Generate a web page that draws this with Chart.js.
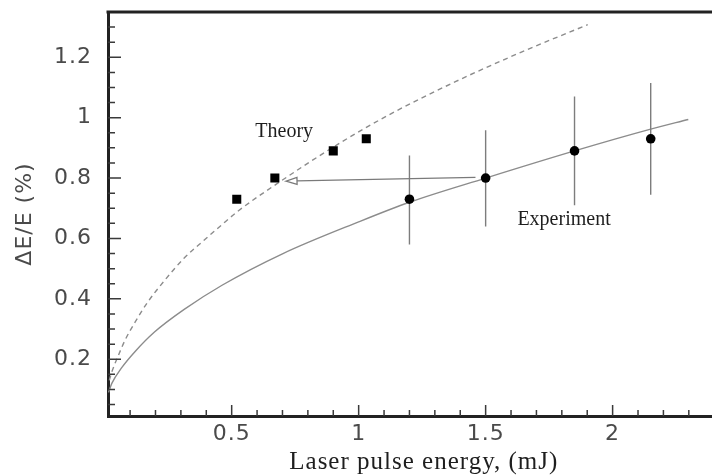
<!DOCTYPE html>
<html>
<head>
<meta charset="utf-8">
<script src="https://cdn.jsdelivr.net/npm/chart.js@4.4.1/dist/chart.umd.min.js"></script>
<style>
  html, body { margin: 0; padding: 0; overflow: hidden; background: #fff; }
  #wrap { width: 712px; height: 475px; overflow: hidden; position: relative; }
  canvas { display: block; }
</style>
</head>
<body>
<div id="wrap"><canvas id="c" width="746" height="475"></canvas></div>
<script>
// Axis ticks
const xMajorTicks = [0.5, 1, 1.5, 2];
const xMinorTicks = [0.1, 0.2, 0.3, 0.4, 0.6, 0.7, 0.8, 0.9, 1.1, 1.2, 1.3, 1.4, 1.6, 1.7, 1.8, 1.9, 2.1, 2.2, 2.3, 2.4];
const yMajorTicks = [0.2, 0.4, 0.6, 0.8, 1, 1.2];
const yMinorTicks = [0.05, 0.1, 0.15, 0.25, 0.3, 0.35, 0.45, 0.5, 0.55, 0.65, 0.7, 0.75, 0.85, 0.9, 0.95, 1.05, 1.1, 1.15, 1.25, 1.3];

// Theory points (squares)
const theoryEnergy = [0.52, 0.67, 0.90, 1.03];
const theoryRes = [0.73, 0.80, 0.89, 0.93];

// Measured points (circles) with error bars
const expEnergy = [1.20, 1.50, 1.85, 2.15];
const expRes = [0.73, 0.80, 0.89, 0.93];
const expLow = [0.58, 0.64, 0.71, 0.745];
const expHigh = [0.875, 0.958, 1.07, 1.115];

// Theory curve (dashed)
const theoryCurveEnergy = [0.018, 0.028, 0.054, 0.08, 0.119, 0.170, 0.235, 0.313, 0.391, 0.462, 0.521, 0.676, 0.93, 1.125, 1.383, 1.643, 1.902];
const theoryCurveRes = [0.13, 0.158, 0.213, 0.263, 0.322, 0.39, 0.46, 0.535, 0.594, 0.646, 0.688, 0.78, 0.918, 1.012, 1.12, 1.218, 1.308];

// Fit through measurements (solid)
const fitCurveEnergy = [0.015, 0.028, 0.067, 0.119, 0.196, 0.313, 0.462, 0.702, 1.00, 1.20, 1.50, 1.85, 2.15, 2.298];
const fitCurveRes = [0.09, 0.12, 0.172, 0.225, 0.29, 0.365, 0.445, 0.55, 0.655, 0.72, 0.80, 0.89, 0.962, 0.994];

// Arrow from measured point back to theory point, and text notes
const arrowFrom = [1.46, 0.802];
const arrowTo = [0.714, 0.790];
const noteText = ['Theory', 'Experiment'];
const noteX = [0.593, 1.625];
const noteY = [0.935, 0.643];

const toXY = (xs, ys) => xs.map((v, i) => ({ x: v, y: ys[i] }));

const errData = [];
expEnergy.forEach((e, i) => {
  errData.push({ x: e, y: expLow[i] }, { x: e, y: expHigh[i] }, { x: e, y: null });
});

// Scales keep no extra room for edge labels
const noEdgePadding = s => {
  s.paddingTop = 0; s.paddingBottom = 0; s.paddingLeft = 0; s.paddingRight = 0;
};

const decorations = {
  id: 'decorations',
  beforeDraw(chart) {
    chart.ctx.letterSpacing = '1px';
  },
  afterDatasetsDraw(chart) {
    const { ctx, chartArea: a, scales: { x, y } } = chart;
    ctx.save();
    ctx.letterSpacing = '0px';

    // inward tick marks
    ctx.strokeStyle = '#3a3a3a';
    ctx.lineWidth = 1.5;
    ctx.beginPath();
    xMajorTicks.forEach(v => { const p = x.getPixelForValue(v); ctx.moveTo(p, a.bottom); ctx.lineTo(p, a.bottom - 11); });
    xMinorTicks.forEach(v => { const p = x.getPixelForValue(v); ctx.moveTo(p, a.bottom); ctx.lineTo(p, a.bottom - 6); });
    yMajorTicks.forEach(v => { const p = y.getPixelForValue(v); ctx.moveTo(a.left, p); ctx.lineTo(a.left + 13, p); });
    yMinorTicks.forEach(v => { const p = y.getPixelForValue(v); ctx.moveTo(a.left, p); ctx.lineTo(a.left + 7, p); });
    ctx.stroke();

    // top frame line
    ctx.strokeStyle = '#222';
    ctx.lineWidth = 3;
    ctx.beginPath();
    ctx.moveTo(a.left - 1.5, a.top);
    ctx.lineTo(a.right, a.top);
    ctx.stroke();

    // arrow
    const x0 = x.getPixelForValue(arrowFrom[0]), y0 = y.getPixelForValue(arrowFrom[1]);
    const x1 = x.getPixelForValue(arrowTo[0]), y1 = y.getPixelForValue(arrowTo[1]);
    const ang = Math.atan2(y0 - y1, x0 - x1);
    const len = 11, half = 3.5;
    const bx = x1 + Math.cos(ang) * len, by = y1 + Math.sin(ang) * len;
    ctx.strokeStyle = '#7a7a7a';
    ctx.lineWidth = 1.3;
    ctx.beginPath();
    ctx.moveTo(x0, y0);
    ctx.lineTo(bx, by);
    ctx.stroke();
    ctx.beginPath();
    ctx.moveTo(x1, y1);
    ctx.lineTo(bx - Math.sin(ang) * half, by + Math.cos(ang) * half);
    ctx.lineTo(bx + Math.sin(ang) * half, by - Math.cos(ang) * half);
    ctx.closePath();
    ctx.fillStyle = '#fff';
    ctx.fill();
    ctx.stroke();

    // notes
    ctx.fillStyle = '#1e1e1e';
    ctx.font = '20px "Liberation Serif", "Times New Roman", serif';
    ctx.textAlign = 'left';
    ctx.textBaseline = 'alphabetic';
    noteText.forEach((t, i) => {
      ctx.fillText(t, x.getPixelForValue(noteX[i]), y.getPixelForValue(noteY[i]));
    });
    ctx.restore();
  }
};

new Chart(document.getElementById('c'), {
  type: 'line',
  data: {
    datasets: [
      {
        label: 'Theory',
        data: toXY(theoryEnergy, theoryRes),
        showLine: false,
        pointStyle: 'rect',
        pointRadius: 6.4,
        pointBackgroundColor: '#000',
        pointBorderColor: '#000',
        pointBorderWidth: 0,
        order: 0
      },
      {
        label: 'Experiment',
        data: toXY(expEnergy, expRes),
        showLine: false,
        pointStyle: 'circle',
        pointRadius: 4.8,
        pointBackgroundColor: '#000',
        pointBorderColor: '#000',
        pointBorderWidth: 0,
        order: 0
      },
      {
        label: 'errors',
        data: errData,
        borderColor: '#7d7d7d',
        borderWidth: 1.4,
        pointRadius: 0,
        spanGaps: false,
        order: 1
      },
      {
        label: 'theory curve',
        data: toXY(theoryCurveEnergy, theoryCurveRes),
        borderColor: '#8c8c8c',
        borderWidth: 1.4,
        borderDash: [5, 4],
        pointRadius: 0,
        cubicInterpolationMode: 'monotone',
        order: 2
      },
      {
        label: 'fit curve',
        data: toXY(fitCurveEnergy, fitCurveRes),
        borderColor: '#8c8c8c',
        borderWidth: 1.4,
        pointRadius: 0,
        cubicInterpolationMode: 'monotone',
        order: 2
      }
    ]
  },
  options: {
    responsive: false,
    animation: false,
    devicePixelRatio: 1,
    layout: { padding: { top: 12, left: 0, right: 0, bottom: 0 } },
    plugins: { legend: { display: false }, tooltip: { enabled: false } },
    scales: {
      x: {
        type: 'linear',
        min: 0.013,
        max: 2.5,
        afterBuildTicks: s => { s.ticks = xMajorTicks.map(v => ({ value: v })); },
        afterFit: s => { s.height = 59; noEdgePadding(s); },
        grid: { drawOnChartArea: false, drawTicks: false },
        border: { display: true, width: 3, color: '#222' },
        ticks: {
          font: { family: 'DejaVu Sans', size: 22 },
          color: '#4a4a4a',
          padding: 5,
          maxRotation: 0,
          autoSkip: false,
          callback: v => String(v)
        },
        title: {
          display: true,
          text: 'Laser pulse energy, (mJ)',
          font: { family: 'Liberation Serif', size: 25, lineHeight: 1 },
          color: '#1e1e1e',
          padding: { top: 0, bottom: 0 }
        }
      },
      y: {
        type: 'linear',
        min: 0.012,
        max: 1.35,
        afterBuildTicks: s => { s.ticks = yMajorTicks.map(v => ({ value: v })); },
        afterFit: s => { s.width = 108; noEdgePadding(s); },
        grid: { drawOnChartArea: false, drawTicks: false },
        border: { display: true, width: 3, color: '#222' },
        ticks: {
          font: { family: 'DejaVu Sans', size: 22 },
          color: '#4a4a4a',
          padding: 16,
          autoSkip: false,
          callback: v => String(v)
        },
        title: {
          display: true,
          text: 'ΔE/E (%)',
          font: { family: 'DejaVu Sans', size: 22 },
          color: '#4a4a4a',
          padding: { top: 12, bottom: 0 }
        }
      }
    }
  },
  plugins: [decorations]
});
</script>
</body>
</html>
